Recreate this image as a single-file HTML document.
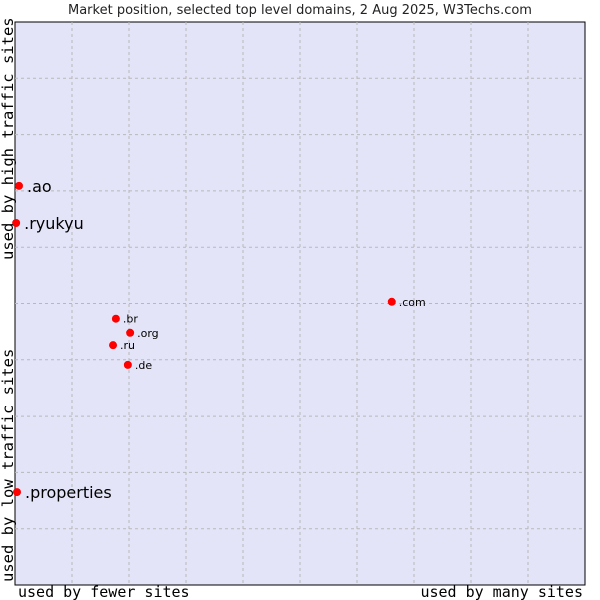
<!DOCTYPE html>
<html><head><meta charset="utf-8"><style>
body{margin:0;background:#fff;width:600px;height:600px;overflow:hidden}
svg{display:block}
</style></head><body>
<svg id="chart" width="600" height="600" xmlns="http://www.w3.org/2000/svg">
<text x="300" y="14" text-anchor="middle" font-family="DejaVu Sans, sans-serif" font-size="13" fill="#222">Market position, selected top level domains, 2 Aug 2025, W3Techs.com</text>
<rect x="15" y="22" width="570" height="563" fill="#e4e4f8" stroke="#000" stroke-width="1"/>
<g id="grid"></g>
<g id="points"></g>
<text x="18" y="597" font-family="DejaVu Sans Mono, monospace" font-size="15" fill="#000">used by fewer sites</text>
<text x="583" y="597" text-anchor="end" font-family="DejaVu Sans Mono, monospace" font-size="15" fill="#000">used by many sites</text>
<text transform="translate(13,260) rotate(-90)" font-family="DejaVu Sans Mono, monospace" font-size="15.5" fill="#000">used by high traffic sites</text>
<text transform="translate(13,582) rotate(-90)" font-family="DejaVu Sans Mono, monospace" font-size="15.5" fill="#000">used by low traffic sites</text>
</svg>
<script>
const labels = [".ao", ".ryukyu", ".com", ".br", ".org", ".ru", ".de", ".properties"];
const xValues = [0.7, 0.2, 66.1, 17.7, 20.2, 17.2, 19.8, 0.35];
const yValues = [70.9, 64.3, 50.3, 47.3, 44.8, 42.6, 39.1, 16.5];
const bigLabel = [true, true, false, false, false, false, false, true];
const NS = "http://www.w3.org/2000/svg";
const L = 15, T = 22, W = 570, H = 563;
function xs(v){ return L + v / 100 * W; }
function ys(v){ return T + H - v / 100 * H; }
const grid = document.getElementById('grid');
for (let i = 1; i < 10; i++) {
  const vx = document.createElementNS(NS, 'line');
  vx.setAttribute('x1', xs(i*10)); vx.setAttribute('x2', xs(i*10));
  vx.setAttribute('y1', T); vx.setAttribute('y2', T+H);
  vx.setAttribute('stroke', '#b8b8b8'); vx.setAttribute('stroke-dasharray', '3,3');
  
  
  grid.appendChild(vx);
  const hz = document.createElementNS(NS, 'line');
  hz.setAttribute('y1', ys(i*10)); hz.setAttribute('y2', ys(i*10));
  hz.setAttribute('x1', L); hz.setAttribute('x2', L+W);
  hz.setAttribute('stroke', '#b8b8b8'); hz.setAttribute('stroke-dasharray', '3,3');
  
  
  grid.appendChild(hz);
}
const pts = document.getElementById('points');
labels.forEach((lab, i) => {
  const cx = xs(xValues[i]), cy = ys(yValues[i]);
  const c = document.createElementNS(NS, 'circle');
  c.setAttribute('cx', cx); c.setAttribute('cy', cy); c.setAttribute('r', 4);
  c.setAttribute('fill', '#ff0000');
  
  
  pts.appendChild(c);
  const t = document.createElementNS(NS, 'text');
  const big = bigLabel[i];
  t.setAttribute('x', cx + (big ? 8 : 7));
  t.setAttribute('y', cy + (big ? 6 : 4));
  t.setAttribute('font-family', 'DejaVu Sans, sans-serif');
  t.setAttribute('font-size', big ? 16 : 11);
  t.setAttribute('fill', '#000');
  t.textContent = lab;
  
  
  pts.appendChild(t);
});
</script>
</body></html>
